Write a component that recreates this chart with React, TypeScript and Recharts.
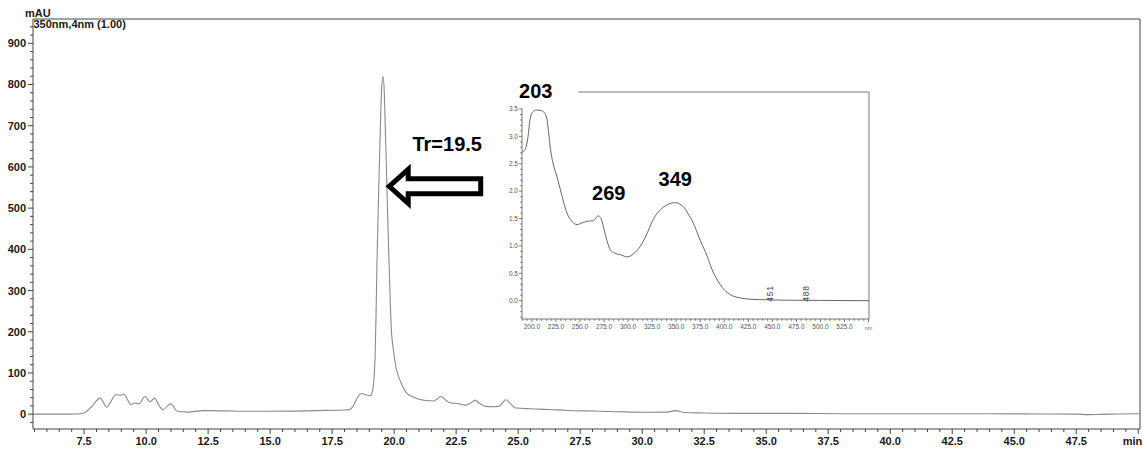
import React from 'react';
import { LineChart, Line, XAxis, YAxis, ReferenceLine, ReferenceDot } from 'recharts';

// ---------- Chromatogram (350nm, 4nm) ----------
const chromTime = [5.44, 6.5, 7.2, 7.5, 7.8, 8.14, 8.42, 8.6, 8.78, 8.98, 9.12, 9.25, 9.39, 9.52, 9.7, 9.96, 10.16, 10.35, 10.5, 10.68, 10.99, 11.26, 11.66, 12.32, 13.13, 14.0, 14.87, 16.0, 16.88, 17.5, 18.0, 18.21, 18.34, 18.5, 18.68, 18.85, 19.05, 19.14, 19.2, 19.23, 19.27, 19.31, 19.36, 19.41, 19.46, 19.5, 19.55, 19.6, 19.64, 19.68, 19.73, 19.79, 19.84, 19.88, 19.95, 20.08, 20.25, 20.48, 20.75, 21.0, 21.3, 21.6, 21.89, 22.1, 22.3, 22.55, 22.89, 23.1, 23.26, 23.45, 23.69, 24.0, 24.25, 24.5, 24.7, 24.9, 25.5, 26.2, 27.0, 28.1, 29.0, 30.1, 31.0, 31.35, 31.7, 32.5, 34.0, 36.0, 38.0, 40.0, 42.0, 44.0, 46.0, 47.5, 48.0, 48.5, 49.2, 50.07];
const chromAbs = [0, 0, 0.5, 3, 18, 39, 17, 33, 47, 46, 49, 35, 23, 27, 25, 43, 30, 39, 23, 11, 25, 7, 5, 8.5, 8, 7, 7, 7.5, 8.5, 9.5, 10, 11, 19, 38, 50, 47, 45, 60, 100, 135, 240, 375, 500, 618, 730, 795, 820, 785, 700, 618, 500, 375, 280, 213, 165, 112, 80, 53, 42, 36, 33, 32, 43, 33, 27, 26, 22, 28, 34, 26, 19, 18, 20, 35, 25, 15, 13, 11.5, 9, 7.5, 6, 4.5, 5, 8.5, 4, 3, 2, 2, 1, 1, 1, 1, 0.5, 0, -1, -0.5, 0.5, 1];

const xMajorTicks = [7.5, 10, 12.5, 15, 17.5, 20, 22.5, 25, 27.5, 30, 32.5, 35, 37.5, 40, 42.5, 45, 47.5];
const xEndTick = 50;
const xUnitLabel = 'min';
const yMajorTicks = [0, 100, 200, 300, 400, 500, 600, 700, 800, 900];
const yUnitLabel = 'mAU';
const channelLabel = '350nm,4nm (1.00)';
const retentionTime = 19.5;
const arrowAnchor = { t: 19.7, v: 553 };

// ---------- UV spectrum (inset) ----------
const specNm = [189.7, 193, 196, 198, 201, 205, 210, 213, 215.5, 217.5, 219, 222, 226, 231, 236.5, 241.5, 247, 252, 257.5, 263.8, 269, 272, 274.2, 278, 281.5, 286, 292, 299, 306, 312.6, 319, 326, 333, 340.6, 349, 357.3, 362, 367.7, 375, 382.3, 387, 392.7, 398, 403, 410, 416.6, 425, 437, 460, 500, 550.5];
const specAbs = [2.71, 2.76, 3.0, 3.3, 3.45, 3.48, 3.47, 3.43, 3.33, 3.05, 2.81, 2.51, 2.27, 1.93, 1.6, 1.45, 1.39, 1.42, 1.45, 1.46, 1.55, 1.5, 1.36, 1.1, 0.93, 0.87, 0.84, 0.8, 0.86, 0.99, 1.2, 1.48, 1.65, 1.75, 1.79, 1.72, 1.6, 1.42, 1.1, 0.81, 0.58, 0.38, 0.24, 0.15, 0.08, 0.05, 0.03, 0.02, 0.01, 0.005, 0];

const specPeakNm = [203, 269, 349];
const specPeakAbs = [3.47, 1.55, 1.79];
const specMarkerNm = [451, 488];
const insetXMajor = [200, 225, 250, 275, 300, 325, 350, 375, 400, 425, 450, 475, 500, 525];
const insetXEnd = 550;
const insetXUnit = 'nm';

// ---------- derived ----------
const mainData = chromTime.map((t, i) => ({ t, v: chromAbs[i] }));
const specData = specNm.map((nm, i) => ({ nm, a: specAbs[i] }));

const mainXDomain = [5.44, 50.07];
const mainYDomain = [-36, 959];
const insetXDomain = [189.7, 550.5];
const insetYDomain = [-0.334, 3.81];

const mainXTicks: number[] = [];
for (let i = 11; i <= 100; i++) mainXTicks.push(i / 2);
const mainYTicks: number[] = [];
for (let v = -20; v <= 940; v += 20) mainYTicks.push(v);
const insetXTicks: number[] = [];
for (let v = 190; v <= 550; v += 5) insetXTicks.push(v);
const insetYTicks: number[] = [];
for (let i = -3; i <= 35; i++) insetYTicks.push(i / 10);

const FONT = '"Liberation Sans", Arial, Helvetica, sans-serif';
const AXIS = '#444';
const TXT = '#1a1a1a';

function MainXTick(props: any) {
  const { x, y, payload } = props;
  const v: number = payload.value;
  const major = xMajorTicks.includes(v);
  const end = v === xEndTick;
  return (
    <g>
      <line x1={x} x2={x} y1={y} y2={y + (major || end ? 5 : 3)} stroke={AXIS} strokeWidth={1} />
      {major && (
        <text x={x} y={y + 16} textAnchor="middle" fontFamily={FONT} fontSize={11} fontWeight="bold" fill={TXT}>
          {v.toFixed(1)}
        </text>
      )}
      {end && (
        <text x={x + 4} y={y + 16} textAnchor="end" fontFamily={FONT} fontSize={11} fontWeight="bold" fill={TXT}>
          {xUnitLabel}
        </text>
      )}
    </g>
  );
}

function MainYTick(props: any) {
  const { x, y, payload } = props;
  const v: number = payload.value;
  const major = yMajorTicks.includes(v);
  return (
    <g>
      <line x1={x} x2={x - (major ? 5 : 3)} y1={y} y2={y} stroke={AXIS} strokeWidth={1} />
      {major && (
        <text x={x - 7} y={y} dy="0.36em" textAnchor="end" fontFamily={FONT} fontSize={11} fontWeight="bold" fill={TXT}>
          {v}
        </text>
      )}
    </g>
  );
}

function InsetXTick(props: any) {
  const { x, y, payload } = props;
  const v: number = payload.value;
  const major = insetXMajor.includes(v);
  const end = v === insetXEnd;
  return (
    <g>
      <line x1={x} x2={x} y1={y} y2={y + (major || end ? 3 : 1.8)} stroke="#555" strokeWidth={0.8} />
      {major && (
        <text x={x} y={y + 10} textAnchor="middle" fontFamily={FONT} fontSize={6.5} fill="#555">
          {v.toFixed(1)}
        </text>
      )}
      {end && (
        <text x={x} y={y + 11} textAnchor="middle" fontFamily={FONT} fontSize={5.5} fill="#777">
          {insetXUnit}
        </text>
      )}
    </g>
  );
}

function InsetYTick(props: any) {
  const { x, y, payload } = props;
  const v: number = payload.value;
  const major = Math.round(v * 10) % 5 === 0;
  return (
    <g>
      <line x1={x} x2={x - (major ? 3 : 1.8)} y1={y} y2={y} stroke="#555" strokeWidth={0.8} />
      {major && (
        <text x={x - 4} y={y} dy="0.35em" textAnchor="end" fontFamily={FONT} fontSize={6.5} fill="#555">
          {v.toFixed(1)}
        </text>
      )}
    </g>
  );
}

function AxisTitles(p: any) {
  const vb = p.viewBox || { x: 0, y: 19, width: 33, height: 410 };
  const right = vb.x + vb.width;
  return (
    <g>
      <text x={right - 8} y={vb.y - 2} fontFamily={FONT} fontSize={11} fontWeight="bold" fill={TXT}>
        {yUnitLabel}
      </text>
      <text x={right + 0.5} y={vb.y + 9} fontFamily={FONT} fontSize={11} fontWeight="bold" fill={TXT}>
        {channelLabel}
      </text>
    </g>
  );
}

function ArrowShape(p: any) {
  const cx = p.cx + 2.5;
  const cy = p.cy;
  const d = `M${cx},${cy} L${cx + 19},${cy - 17} L${cx + 19},${cy - 7.5} L${cx + 91.5},${cy - 7.5} L${cx + 91.5},${cy + 7.5} L${cx + 19},${cy + 7.5} L${cx + 19},${cy + 17} Z`;
  return (
    <g>
      <path d={d} fill="#fff" stroke="#000" strokeWidth={5} strokeLinejoin="miter" strokeMiterlimit={6} />
      <text x={cx + 58} y={cy - 35} textAnchor="middle" fontFamily={FONT} fontSize={20} fontWeight="bold" fill="#000">
        {`Tr=${retentionTime}`}
      </text>
    </g>
  );
}

const peakOffsets = [
  { dx: 1, dy: -12.6 },
  { dx: 10.5, dy: -16 },
  { dx: 0, dy: -17 },
];

function makePeakLabel(text: string, dx: number, dy: number) {
  return (p: any) => (
    <text x={p.cx + dx} y={p.cy + dy} textAnchor="middle" fontFamily={FONT} fontSize={20} fontWeight="bold" fill="#000">
      {text}
    </text>
  );
}

function makeMarkerLabel(text: string) {
  return (p: any) => (
    <text
      x={p.cx}
      y={p.cy + 1}
      transform={`rotate(-90 ${p.cx} ${p.cy + 1})`}
      textAnchor="start"
      fontFamily={FONT}
      fontSize={8.5}
      letterSpacing={0.8}
      fill="#444"
    >
      {text}
    </text>
  );
}

export default function App() {
  return (
    <div style={{ position: 'absolute', left: 0, top: 0, width: 1143, height: 449, background: '#fff', fontFamily: FONT }}>
      <div style={{ position: 'absolute', left: 0, top: 0 }}>
        <LineChart width={1143} height={449} data={mainData} margin={{ top: 19, right: 3, left: 0, bottom: 0 }}>
          <XAxis
            dataKey="t"
            type="number"
            domain={mainXDomain}
            ticks={mainXTicks}
            interval={0}
            height={20}
            tickSize={0}
            tickMargin={0}
            tickLine={false}
            tick={<MainXTick />}
            axisLine={{ stroke: AXIS }}
            allowDataOverflow
          />
          <YAxis
            type="number"
            domain={mainYDomain}
            ticks={mainYTicks}
            interval={0}
            width={33}
            tickSize={0}
            tickMargin={0}
            tickLine={false}
            tick={<MainYTick />}
            axisLine={{ stroke: AXIS }}
            allowDataOverflow
            label={{ content: (p: any) => <AxisTitles {...p} /> }}
          />
          <ReferenceLine y={mainYDomain[1]} stroke={AXIS} strokeWidth={1} />
          <ReferenceLine x={mainXDomain[1]} stroke={AXIS} strokeWidth={1} />
          <Line
            type="monotone"
            dataKey="v"
            stroke="#8a8a8a"
            strokeWidth={1.1}
            dot={false}
            activeDot={false}
            isAnimationActive={false}
          />
          <ReferenceDot x={arrowAnchor.t} y={arrowAnchor.v} r={0} shape={ArrowShape} />
        </LineChart>
      </div>
      <div style={{ position: 'absolute', left: 480, top: 80 }}>
        <LineChart width={400} height={260} data={specData} margin={{ top: 12, right: 11, left: 20, bottom: 7 }}>
          <XAxis
            dataKey="nm"
            type="number"
            domain={insetXDomain}
            ticks={insetXTicks}
            interval={0}
            height={14}
            tickSize={0}
            tickMargin={0}
            tickLine={false}
            tick={<InsetXTick />}
            axisLine={{ stroke: '#555', strokeWidth: 0.8 }}
            allowDataOverflow
          />
          <YAxis
            type="number"
            domain={insetYDomain}
            ticks={insetYTicks}
            interval={0}
            width={22}
            tickSize={0}
            tickMargin={0}
            tickLine={false}
            tick={<InsetYTick />}
            axisLine={false}
            allowDataOverflow
          />
          <ReferenceLine
            segment={[{ x: insetXDomain[0], y: insetYDomain[0] }, { x: insetXDomain[0], y: 3.51 }]}
            stroke="#555"
            strokeWidth={0.8}
          />
          <ReferenceLine
            segment={[{ x: 248.2, y: insetYDomain[1] }, { x: insetXDomain[1], y: insetYDomain[1] }]}
            stroke="#666"
            strokeWidth={0.9}
          />
          <ReferenceLine x={insetXDomain[1]} stroke="#666" strokeWidth={0.9} />
          <Line
            type="monotone"
            dataKey="a"
            stroke="#666"
            strokeWidth={1}
            dot={false}
            activeDot={false}
            isAnimationActive={false}
          />
          {specPeakNm.map((nm, i) => (
            <ReferenceDot
              key={`pk${nm}`}
              x={nm}
              y={specPeakAbs[i]}
              r={0}
              shape={makePeakLabel(String(nm), peakOffsets[i].dx, peakOffsets[i].dy)}
            />
          ))}
          {specMarkerNm.map((nm) => (
            <ReferenceDot key={`mk${nm}`} x={nm} y={0} r={0} shape={makeMarkerLabel(String(nm))} />
          ))}
        </LineChart>
      </div>
    </div>
  );
}
